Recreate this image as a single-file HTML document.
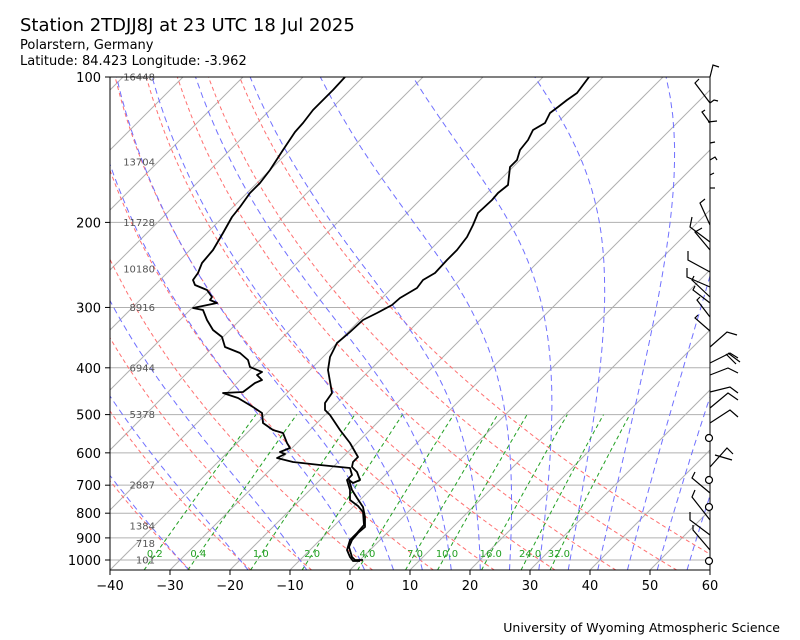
<!DOCTYPE html>
<html><head><meta charset="utf-8"><style>
body{margin:0;background:#fff;}
svg{display:block;font-family:"DejaVu Sans","Liberation Sans",sans-serif;}
</style></head><body>
<svg id="s" width="800" height="640" viewBox="0 0 800 640" xmlns="http://www.w3.org/2000/svg">
<defs><clipPath id="c"><rect x="110" y="77" width="600" height="493"/></clipPath></defs>
<rect width="800" height="640" fill="#fff"/>
<text x="20" y="31" font-size="18">Station 2TDJJ8J at 23 UTC 18 Jul 2025</text>
<text x="20" y="49" font-size="13">Polarstern, Germany</text>
<text x="20" y="65" font-size="13">Latitude: 84.423 Longitude: -3.962</text>
<text x="780" y="632" font-size="12.5" text-anchor="end">University of Wyoming Atmospheric Science</text>
<g id="grid" clip-path="url(#c)"></g>
<g id="prof" clip-path="url(#c)" fill="none" stroke="#000" stroke-width="1.8" stroke-linejoin="round">
<polyline points="589,77 577,93 567,100 558,107 550,113 545,123 533,130 528,140 520,150 517,160 510,167 508,185 498,193 492,200 478,213 473,225 467,237 457,250 447,260 435,273 423,280 417,288 400,298 392,305 377,313 363,320 350,332 343,338 337,343 330,357 328,370 332,393 325,403 325,410 330,415 340,430 350,443 358,457 353,462 352,467 357,472 360,480 353,483 349,480 352,490 357,498 363,507 365,517 365,527 358,533 352,540 349,547 352,557 355,560 363,560"/>
<polyline points="345,77 333,90 323,100 313,110 303,123 295,132 283,150 270,170 260,183 250,193 240,207 232,217 223,233 213,250 202,263 198,273 193,280 195,285 207,290 212,297 210,300 217,303 193,308 203,310 207,320 213,330 222,337 225,347 240,353 248,360 250,367 262,372 257,375 262,380 255,383 243,392 223,393 238,398 253,407 262,413 263,423 273,430 283,433 287,443 290,448 280,452 285,454 277,458 293,462 320,465 350,468 352,475 347,480 350,490 350,500 358,506 363,512 364,525 357,533 350,540 347,550 350,557 353,561 360,561"/>
</g>
<g id="ax"></g>
<g id="barbs" stroke="#000" stroke-width="1.2" fill="none"></g>
</svg>
<script>
var NS="http://www.w3.org/2000/svg";
function el(p,t,a,txt){var e=document.createElementNS(NS,t);for(var k in a)e.setAttribute(k,a[k]);if(txt!==undefined)e.textContent=txt;p.appendChild(e);return e;}
function Y(p){return 77+483*Math.log10(p/100);}
function X(T,p){return 110+(T+40)*6+(570-Y(p));}
var g=document.getElementById('grid'),ax=document.getElementById('ax');
for(var p=100;p<=1000;p+=100){var y=Y(p);el(g,'line',{x1:110,x2:710,y1:y,y2:y,stroke:'#b0b0b0','stroke-width':1});}
for(var T=-200;T<=60;T+=10){var x0=110+(T+40)*6;el(g,'line',{x1:x0,y1:570,x2:x0+600,y2:-30,stroke:'#b0b0b0','stroke-width':1});}
function poly(pts,st,dash){el(g,'polyline',{points:pts.map(function(q){return q[0].toFixed(1)+','+q[1].toFixed(1)}).join(' '),fill:'none',stroke:st,'stroke-width':1,'stroke-dasharray':dash});}
for(var t=-30;t<=60;t+=10){var th=t+273.15,pts=[];for(var p=1050;p>=100;p-=10){var Tk=th*Math.pow(p/1000,0.2857);pts.push([X(Tk-273.15,p),Y(p)]);}poly(pts,'#ff7070','4,3');}
function es(tc){return 6.112*Math.exp(17.67*tc/(tc+243.5));}
function dTdp(Tk,p){var tc=Tk-273.15,e=es(tc),rs=0.622*e/(p-e),Lv=2.501e6,Rd=287.04,cp=1005.7;return (Rd*Tk+Lv*rs)/(p*(cp+Lv*Lv*rs*0.622/(Rd*Tk*Tk)));}
var mt=[-30,-20,-10,0,5,10,15,20,25,30,35,40,45,50,55];
mt.forEach(function(t0){var pts=[];var Tk=t0+273.15,p=1000,dp=2;var T2=Tk;for(var q=1000;q<1050;q+=dp){T2+=dTdp(T2,q)*dp;}pts.push([X(T2-273.15,1050),Y(1050)]);pts.push([X(Tk-273.15,1000),Y(1000)]);
for(p=1000;p>100;p-=dp){Tk-=dTdp(Tk,p)*dp;if((p-dp)%10==0)pts.push([X(Tk-273.15,p-dp),Y(p-dp)]);}poly(pts,'#7070ff','6,4');});
var ws=[0.2,0.4,1.0,2.0,4.0,7.0,10.0,16.0,24.0,32.0];
function td(w,p){var e=p*w/(622+w),l=Math.log(e/6.112);return 243.5*l/(17.67-l);}
ws.forEach(function(w){var pts=[];for(var p=1050;p>=500;p-=10)pts.push([X(td(w,p),p),Y(p)]);poly(pts,'#22a022','4,3');
var lx=X(td(w,1010),1010)+5;el(g,'text',{x:lx,y:557,'font-size':10,fill:'#22a022','text-anchor':'middle'},w.toFixed(1));});
var H=[[100,'16448'],[150,'13704'],[200,'11728'],[250,'10180'],[300,'8916'],[400,'6944'],[500,'5378'],[700,'2887'],[850,'1384'],[925,'718'],[1000,'101']];
H.forEach(function(h){el(ax,'text',{x:155,y:Y(h[0])+3.5,'font-size':10,fill:'#555','text-anchor':'end'},h[1]);});
el(ax,'rect',{x:110,y:77,width:600,height:493,fill:'none',stroke:'#000','stroke-width':1});
for(var T=-40;T<=60;T+=10){var x=110+(T+40)*6;el(ax,'line',{x1:x,x2:x,y1:570,y2:575,stroke:'#000'});el(ax,'text',{x:x,y:590,'font-size':13,'text-anchor':'middle'},String(T).replace('-','\u2212'));}
for(var p=100;p<=1000;p+=100){var y=Y(p);el(ax,'line',{x1:105,x2:110,y1:y,y2:y,stroke:'#000'});el(ax,'text',{x:101,y:y+5,'font-size':13,'text-anchor':'end'},p);}
var b=document.getElementById('barbs');
var L=[[710,77,713,65,719,67],[710,103,695,83,699,79],[710,103,714,100,718,101],[710,123,702,112,705,110],[708,122,717,121],[710,143,715,142],[710,160,715,157,717,160],[710,175,714,173],[710,188,715,188],[710,225,700,203,705,199],[710,242,690,227,692,217],[710,250,695,232,702,228],[710,272,688,260,688,251],[710,287,687,277,687,268],[710,297,692,280,694,276],[710,303,693,290,695,286],[710,317,697,300,700,297],[710,331,695,318,698,315],[710,347,727,332,737,335],[710,363,730,353,738,358],[710,375,728,368,738,373],[710,392,730,387,738,393],[710,408,728,393,738,400],[710,423,730,410,738,417],[710,467,727,448,733,454],[710,493,692,478,695,472],[710,520,692,497,695,490],[710,535,690,520,690,512],[710,550,693,530,693,525]];
L.forEach(function(a){var pts=[];for(var i=0;i<a.length;i+=2)pts.push(a[i]+','+a[i+1]);el(b,'polyline',{points:pts.join(' ')});});
el(b,'line',{x1:728,y1:353,x2:740,y2:362});el(b,'line',{x1:726,y1:354,x2:736,y2:364});
el(b,'line',{x1:715,y1:455,x2:732,y2:460});
[438,480,507,561].forEach(function(y){el(b,'circle',{cx:709,cy:y,r:3.5,fill:'#fff'});});
</script>
</body></html>
